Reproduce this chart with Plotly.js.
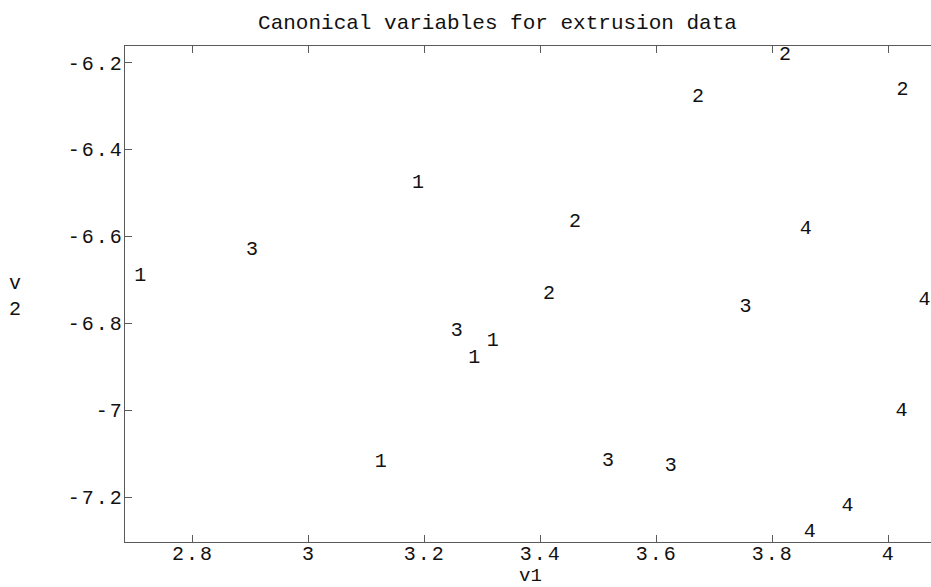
<!DOCTYPE html>
<html>
<head>
<meta charset="utf-8">
<script src="https://cdn.plot.ly/plotly-3.0.1.min.js"></script>
<style>
html,body{margin:0;padding:0;background:#fff;}
#chart{width:931px;height:587px;}
#chart .xtick text, #chart .ytick text{letter-spacing:2px;}
</style>
</head>
<body>
<div id="chart"></div>
<script>
// Canonical variables for extrusion data
const group = ["1","1","1","1","1",
               "2","2","2","2","2",
               "3","3","3","3","3",
               "4","4","4","4","4"];
const v1 = [2.709, 3.188, 3.317, 3.285, 3.124,
            3.821, 3.671, 4.024, 3.459, 3.414,
            2.902, 3.255, 3.753, 3.516, 3.624,
            3.857, 4.062, 4.022, 3.929, 3.864];
const v2 = [-6.691, -6.478, -6.841, -6.880, -7.119,
            -6.183, -6.280, -6.263, -6.568, -6.733,
            -6.632, -6.818, -6.762, -7.117, -7.128,
            -6.583, -6.746, -7.001, -7.220, -7.279];

const xTickVals = [2.8, 3.0, 3.2, 3.4, 3.6, 3.8, 4.0];
const xTickText = ["2.8", "3", "3.2", "3.4", "3.6", "3.8", "4"];
const yTickVals = [-7.2, -7.0, -6.8, -6.6, -6.4, -6.2];
const yTickText = ["-7.2", "-7", "-6.8", "-6.6", "-6.4", "-6.2"];

const FONT = "'Liberation Mono', 'DejaVu Sans Mono', monospace";
const AX = "#5a5a5a";

const trace = {
  x: v1, y: v2, text: group,
  mode: "text", type: "scatter",
  textposition: "middle center",
  textfont: {family: FONT, size: 20, color: "#111"},
  hoverinfo: "skip", cliponaxis: false, showlegend: false
};

const L = 125, R = 931, T = 46, B = 542;
const layout = {
  width: 931, height: 587,
  margin: {l: L, r: 931 - R, t: T, b: 587 - B, pad: 0},
  paper_bgcolor: "#fff", plot_bgcolor: "#fff",
  font: {family: FONT, size: 20, color: "#111"},
  title: {
    text: "Canonical variables for extrusion data",
    font: {family: FONT, size: 21, color: "#111"},
    xref: "paper", x: (497.5 - L) / (R - L), xanchor: "center",
    yref: "container", y: 1 - 22 / 587, yanchor: "middle"
  },
  xaxis: {
    range: [2.6828, 4.073],
    tickmode: "array", tickvals: xTickVals, ticktext: xTickText,
    ticks: "inside", ticklen: 7, tickwidth: 1, tickcolor: AX,
    showline: true, linecolor: AX, linewidth: 1.3, mirror: "ticks",
    showgrid: false, zeroline: false,
    tickfont: {family: FONT, size: 20, color: "#111"},
    ticklabelstandoff: -7,
    automargin: false
  },
  yaxis: {
    range: [-7.303, -6.162],
    tickmode: "array", tickvals: yTickVals, ticktext: yTickText,
    ticks: "inside", ticklen: 7, tickwidth: 1, tickcolor: AX,
    showline: true, linecolor: AX, linewidth: 1.3, mirror: false,
    showgrid: false, zeroline: false,
    tickfont: {family: FONT, size: 20, color: "#111"},
    ticklabelstandoff: -4,
    automargin: false
  },
  annotations: [{
    text: "v<br>2", showarrow: false,
    xref: "paper", yref: "paper",
    x: (15 - L) / (R - L), y: (B - 296) / (B - T),
    xanchor: "center", yanchor: "middle",
    font: {family: FONT, size: 20, color: "#111"}
  }, {
    text: "v1", showarrow: false,
    xref: "paper", yref: "paper",
    x: (530 - L) / (R - L), y: (B - 576) / (B - T),
    xanchor: "center", yanchor: "middle",
    font: {family: FONT, size: 19, color: "#111"}
  }]
};

Plotly.newPlot("chart", [trace], layout, {staticPlot: true, displayModeBar: false});
</script>
</body>
</html>
